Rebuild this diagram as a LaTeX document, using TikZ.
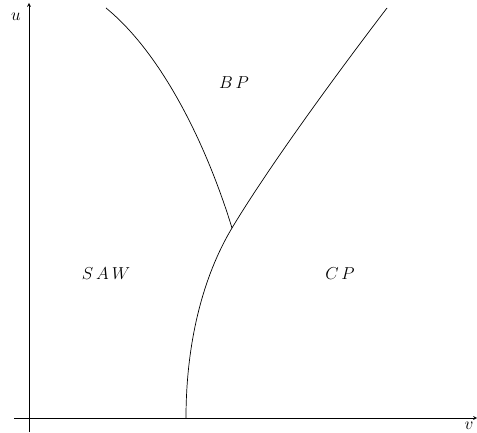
\documentclass[tikz,border=0pt]{standalone}
\usetikzlibrary{arrows}

\begin{document}
\begin{tikzpicture}[x=1pt,y=-1pt,font=\LARGE,line width=0.7pt]
\useasboundingbox (0,0) rectangle (477,433);

\coordinate (O1) at (29,432);
\coordinate (U1) at (29,3);
\coordinate (O2) at (14,418);
\coordinate (V1) at (477,418);
\coordinate (T) at (232,228);
\coordinate (R0) at (186,418);
\coordinate (R1) at (387,8);
\coordinate (L0) at (106,8);

\node[] (u) at (16,17) {$u$};
\node[] (v) at (469,426) {$v$};

\node[] (BP) at (234,83) {$B\,P$};
\node[] (SAW) at (106,274) {$S\,A\,W$};
\node[] (CP) at (340,274) {$C\,P$};

\draw[->, >=stealth] (O1) -- (U1);
\draw[->, >=stealth] (O2) -- (V1);

\draw (R0) .. controls (186,345) and (202,278) .. (T)
 .. controls (268,168) and (335,76) .. (R1);
\draw (L0) .. controls (160,52) and (205,140) .. (T);
\end{tikzpicture}
\end{document}
